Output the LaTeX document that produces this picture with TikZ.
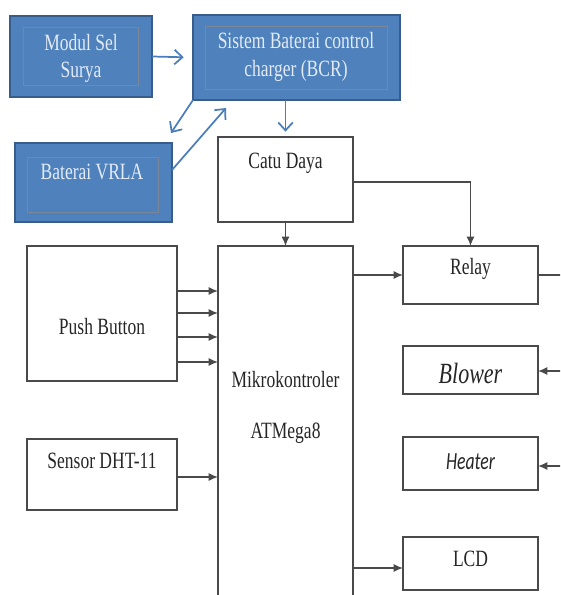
\documentclass[tikz,border=0pt]{standalone}
\usepackage{fontspec}
\setmainfont[FakeStretch=0.75]{Liberation Serif}
\newfontfamily\calib[FakeStretch=0.72]{Carlito}
\usetikzlibrary{arrows.meta}
\definecolor{bfill}{HTML}{4F81BD}
\definecolor{bdraw}{HTML}{385D8A}
\definecolor{binner}{HTML}{7A8798}
\definecolor{btext}{HTML}{E3EBF5}
\definecolor{barrow}{HTML}{4A7EBB}
\definecolor{lgray}{HTML}{4A4A4A}
\newcommand\bx[6]{\node[#1,minimum width={(#4-#2)*0.75pt},minimum height={(#5-#3)*0.75pt}] (#6) at ({(#2+#4)/2},{(#3+#5)/2}) {};}
\tikzset{
  bluebox/.style={draw=bdraw,fill=bfill,line width=1.6pt,inner sep=0pt,outer sep=0pt,rectangle},
  innerline/.style={draw=binner,line width=0.6pt},
  whitebox/.style={draw=lgray,line width=1.1pt,inner sep=0pt,outer sep=0pt,rectangle},
  btxt/.style={text=btext,font=\fontsize{17.5}{19}\selectfont,inner sep=0pt},
  ktxt/.style={text=black!85,font=\fontsize{17.5}{19}\selectfont,inner sep=0pt},
  arr/.style={draw=lgray,line width=1.1pt,-{Latex[length=7pt,width=6pt]}},
  line/.style={draw=lgray,line width=1.1pt},
  blarr/.style={draw=barrow,line width=1.3pt,-{Straight Barb[length=6pt,width=11pt]}}
}
\begin{document}
\begin{tikzpicture}[x=0.75pt,y=-0.75pt]
\clip (0,0) rectangle (560,595);
\fill[white] (0,0) rectangle (560,595);
% blue boxes
\bx{bluebox}{10}{16}{152}{97}{modul}
\draw[innerline] ([shift={(13,11)}]modul.north west) rectangle ([shift={(-14,-12)}]modul.south east);
\bx{bluebox}{193}{15}{400}{100}{bcr}
\draw[innerline] ([shift={(12,11)}]bcr.north west) rectangle ([shift={(-13,-11)}]bcr.south east);
\bx{bluebox}{15}{143}{172}{222}{vrla}
\draw[innerline] ([shift={(12,14)}]vrla.north west) rectangle ([shift={(-14,-10)}]vrla.south east);
\node[btxt] (t1) at (81,43) {Modul Sel};
\node[btxt] (t2) at (81,72) {Surya};
\node[btxt] (t3) at (296,41) {Sistem Baterai control};
\node[btxt] (t4) at (296,71) {charger (BCR)};
\node[btxt] (t5) at (92,172) {Baterai VRLA};
% white boxes
\bx{whitebox}{218}{137}{353}{222}{cd}
\bx{whitebox}{218}{246}{353}{620}{mk}
\bx{whitebox}{27}{246}{177}{381}{pb}
\bx{whitebox}{27}{439}{177}{510}{dht}
\bx{whitebox}{403}{246}{538}{304}{relay}
\bx{whitebox}{403}{346}{538}{394}{blower}
\bx{whitebox}{403}{437}{538}{490}{heater}
\bx{whitebox}{403}{537}{538}{590}{lcd}
\node[ktxt] (l1) at (285.5,163) {Catu Daya};
\node[ktxt] (l2) at (285.5,380) {Mikrokontroler};
\node[ktxt] (l3) at (285.5,433) {ATMega8};
\node[ktxt] (l4) at (102,327) {Push Button};
\node[ktxt] (l5) at (102,461) {Sensor DHT-11};
\node[ktxt] (l6) at (470.5,269) {Relay};
\node[text=black!85,font=\fontsize{22}{24}\selectfont\itshape,inner sep=0pt] (l7) at (470.5,373) {Blower};
\node[text=black!85,font=\calib\fontsize{18.5}{20}\selectfont\itshape,inner sep=0pt] (l8) at (470.5,462) {Heater};
\node[ktxt] (l9) at (470.5,559) {LCD};
% blue arrows
\coordinate (v1) at (171,133);
\coordinate (v2) at (172,170);
\coordinate (b2) at (226,108);
\draw[blarr,shorten >=7] (modul.east) -- (bcr.west);
\draw[blarr] (bcr.south west) -- (v1);
\draw[blarr] (v2) -- (b2);
\draw[blarr,shorten >=4] (bcr.south -| cd.north) -- (cd.north);
% black connectors
\draw[arr] (cd.south) -- (mk.north);
\draw[arr] ([yshift=-2.5*0.75pt]cd.east) -| (relay.north);
\draw[arr] (relay.west -| mk.east) -- (relay.west);
\draw[arr] ([yshift=-4.5*0.75pt]lcd.west -| mk.east) -- ([yshift=-4.5*0.75pt]lcd.west);
\coordinate (p1) at (177,291);
\coordinate (p2) at (177,313);
\coordinate (p3) at (177,337);
\coordinate (p4) at (177,362);
\foreach \p in {p1,p2,p3,p4} {\draw[arr] (\p) -- (\p -| mk.west);}
\draw[arr] ([yshift=-2.5*0.75pt]dht.east) -- ([yshift=-2.5*0.75pt]dht.east -| mk.west);
\coordinate (r1) at (575,275);
\coordinate (r2) at (575,371);
\coordinate (r3) at (575,466);
\draw[line] (relay.east) -- (r1);
\draw[arr] (r2) -- (r2 -| blower.east);
\draw[arr] (r3) -- (r3 -| heater.east);
\end{tikzpicture}
\end{document}
